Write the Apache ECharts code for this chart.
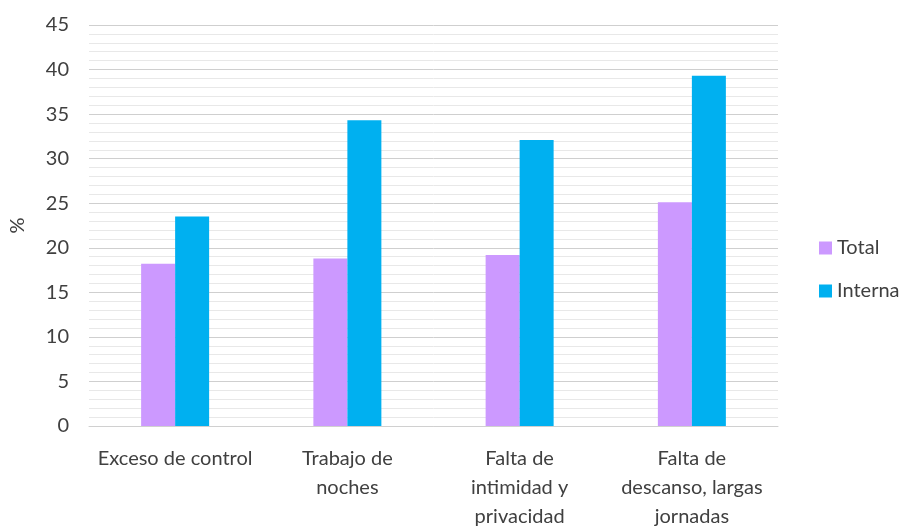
<!DOCTYPE html>
<html>
<head>
<meta charset="utf-8">
<script src="https://cdn.jsdelivr.net/npm/echarts@6/dist/echarts.min.js"></script>
<style>
  html, body { margin: 0; padding: 0; background: #fff; }
  #chart { width: 913px; height: 527px; }
</style>
</head>
<body>
<div id="chart"></div>
<script>
// Categories (wrapped as they appear under the axis)
const categories = [
  'Exceso de control',
  'Trabajo de\nnoches',
  'Falta de\nintimidad y\nprivacidad',
  'Falta de\ndescanso, largas\njornadas'
];
// Percentages per group
const totalValues = [18.2, 18.8, 19.2, 25.1];
const internaValues = [23.5, 34.3, 32.1, 39.3];
const seriesNames = ['Total', 'Interna'];

const FONT = 'Lato, "Open Sans", sans-serif';
const TEXT = '#404040';

const chart = echarts.init(document.getElementById('chart'), null, { renderer: 'canvas' });
chart.setOption({
  animation: false,
  backgroundColor: '#ffffff',
  grid: { left: 89, right: 135, top: 25, bottom: 101, containLabel: false, outerBoundsMode: 'none' },
  legend: {
    orient: 'vertical',
    left: 819,
    top: 238,
    padding: 0,
    itemWidth: 13,
    itemHeight: 13,
    itemGap: 23,
    icon: 'rect',
    textStyle: { fontFamily: FONT, fontSize: 20, color: TEXT },
    data: seriesNames
  },
  xAxis: {
    type: 'category',
    data: categories,
    axisLine: { lineStyle: { color: '#d0d0d0', width: 1 } },
    axisTick: { show: false },
    axisLabel: {
      interval: 0,
      fontFamily: FONT,
      fontSize: 20,
      color: TEXT,
      lineHeight: 29,
      margin: 18
    }
  },
  yAxis: {
    type: 'value',
    min: 0,
    max: 45,
    interval: 5,
    name: '%',
    nameLocation: 'middle',
    nameGap: 61,
    nameRotate: 90,
    nameTextStyle: { fontFamily: FONT, fontSize: 20, color: TEXT },
    axisLine: { show: false },
    axisTick: { show: false },
    axisLabel: { fontFamily: FONT, fontSize: 20, color: TEXT, margin: 20 },
    splitLine: { lineStyle: { color: '#cfcfcf', width: 1 } },
    minorTick: { show: false, splitNumber: 5 },
    minorSplitLine: { show: true, lineStyle: { color: '#e8e8e8', width: 1 } }
  },
  series: [
    {
      name: seriesNames[0],
      type: 'bar',
      data: totalValues,
      barWidth: 34,
      barGap: '0%',
      itemStyle: { color: '#cc99ff' }
    },
    {
      name: seriesNames[1],
      type: 'bar',
      data: internaValues,
      barWidth: 34,
      barGap: '0%',
      itemStyle: { color: '#00b0f0' }
    }
  ]
});
</script>
</body>
</html>
